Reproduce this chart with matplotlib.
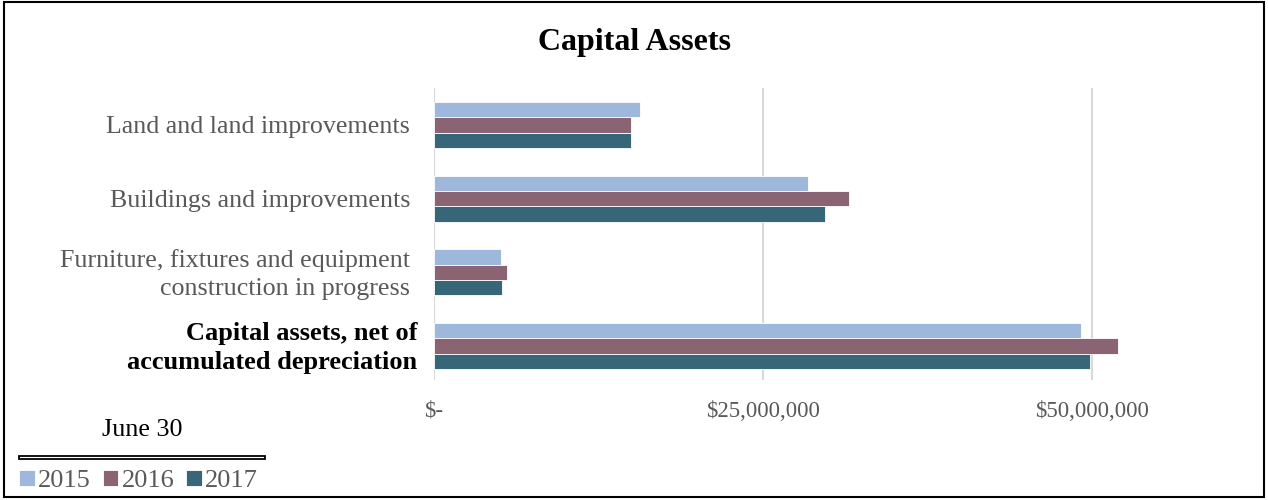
import matplotlib.pyplot as plt
import numpy as np
from matplotlib.patches import Rectangle
from matplotlib.ticker import FuncFormatter
from matplotlib.transforms import offset_copy

plt.rcParams['font.family'] = ['Liberation Serif', 'DejaVu Serif']

categories = ['Land and land improvements',
              'Buildings and improvements',
              'Furniture, fixtures and equipment\nconstruction in progress',
              'Capital assets, net of\naccumulated depreciation']
years = ['2015', '2016', '2017']
vals_2015 = [15.65e6, 28.42e6, 5.09e6, 49.16e6]
vals_2016 = [14.97e6, 31.53e6, 5.55e6, 51.98e6]
vals_2017 = [14.97e6, 29.71e6, 5.17e6, 49.85e6]
colors = ['#9DB8DA', '#8A6473', '#376679']

fig = plt.figure(figsize=(12.68, 5), dpi=100)
ax = fig.add_axes([0.3423, 0.24, 0.623, 0.584])

y = np.arange(len(categories))
h = 0.208
for i, (vals, c, yr) in enumerate(zip([vals_2015, vals_2016, vals_2017], colors, years)):
    ax.barh(y + (i - 1) * h, vals, height=h, color=c, edgecolor='white',
            linewidth=0.6, label=yr, zorder=3)

ax.set_xlim(0, 60e6)
ax.set_ylim(3.46, -0.5)
ax.set_xticks([0, 25e6, 50e6])
ax.xaxis.set_major_formatter(FuncFormatter(
    lambda v, p: '$-' if v == 0 else '${:,.0f}'.format(v)))
ax.grid(axis='x', color='#D9D9D9', linewidth=1.5, zorder=0)
for s in ax.spines.values():
    s.set_visible(False)
ax.tick_params(axis='x', length=0, colors='#595959', labelsize=16.5, pad=15)
ax.set_yticks(y)
ax.set_yticklabels([])
ax.tick_params(axis='y', length=0)

# category labels, the total row in bold
for yi, cat in zip(y, categories):
    last = yi == y[-1]
    tr = offset_copy(ax.get_yaxis_transform(), fig=fig,
                     x=-17 if last else -24, y=-2, units='dots')
    ax.text(0, yi, cat, transform=tr, ha='right', va='center',
            multialignment='right', linespacing=1.32,
            fontsize=19 if last else 18.7,
            fontweight='bold' if last else 'normal',
            color='black' if last else '#595959')

fig.text(0.5, 0.915, 'Capital Assets', ha='center', va='center',
         fontsize=23, fontweight='bold')

# legend block
fig.text(0.112, 0.14, 'June 30', ha='center', va='center', fontsize=18.7)
fig.patches.append(Rectangle((0.015, 0.083), 0.194, 0.006, transform=fig.transFigure,
                             facecolor='white', edgecolor='black', linewidth=1.3))
leg = fig.legend(loc='center left', bbox_to_anchor=(0.015, 0.038), ncol=3, frameon=False,
                 fontsize=19, handlelength=0.6, handleheight=0.6, handletextpad=0.12,
                 columnspacing=0.45, borderpad=0, borderaxespad=0)
for t in leg.get_texts():
    t.set_color('#595959')

fig.patches.append(Rectangle((0.003, 0.006), 0.994, 0.99, transform=fig.transFigure,
                             facecolor='none', edgecolor='black', linewidth=1.5))

fig.savefig('out.png', dpi=100)
